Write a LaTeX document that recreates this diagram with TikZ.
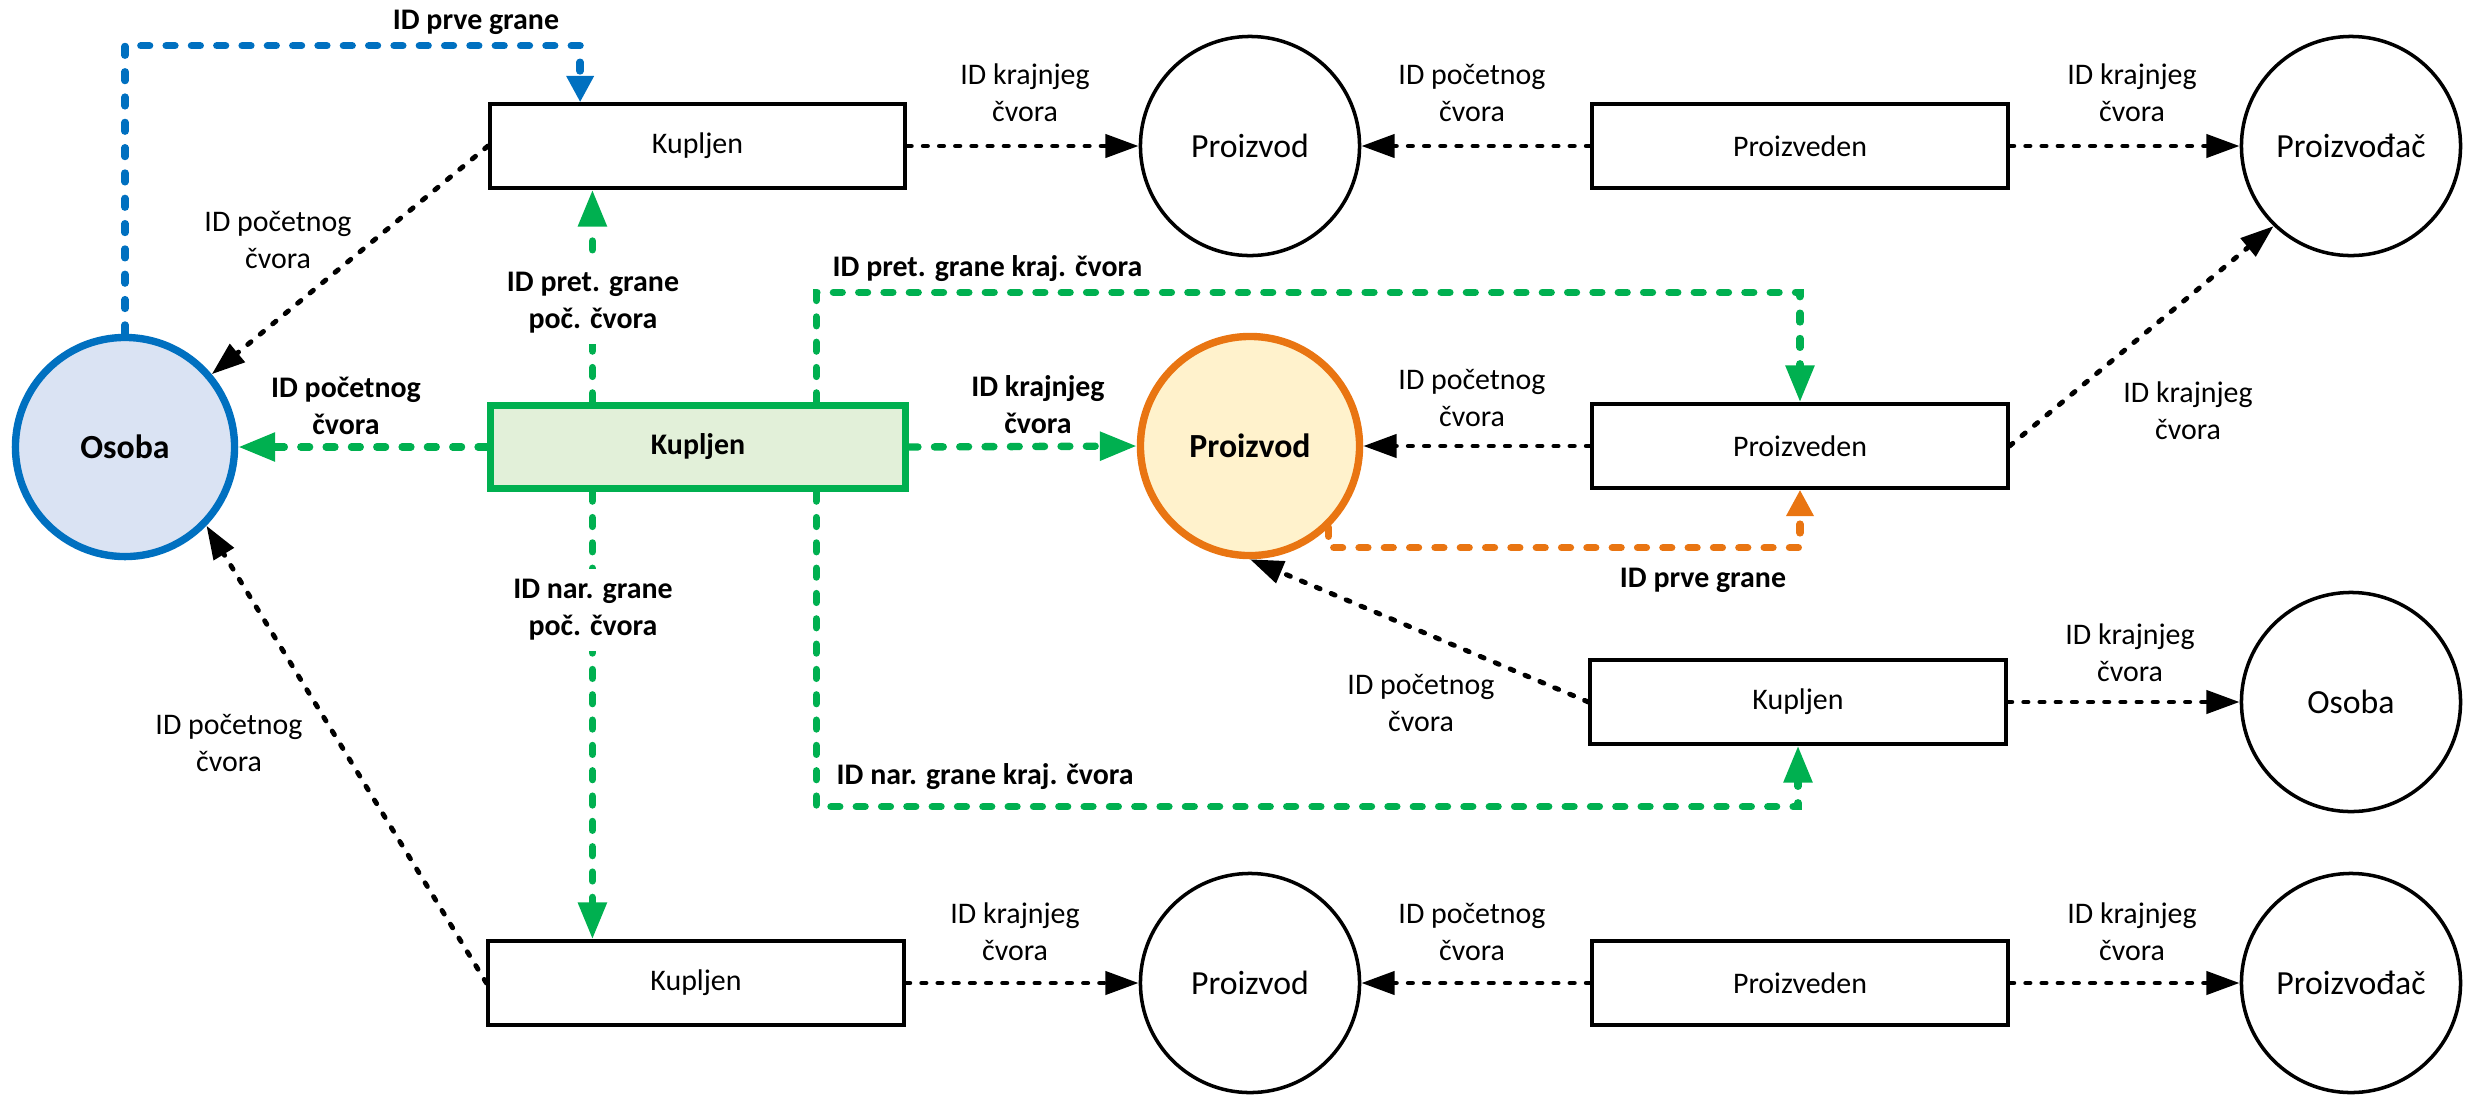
\documentclass[tikz,border=0pt]{standalone}
\usepackage{fontspec}
\setmainfont{Carlito}
\usetikzlibrary{arrows.meta,calc}

\definecolor{cblue}{HTML}{0070C0}
\definecolor{cbluefill}{HTML}{DAE3F3}
\definecolor{cgreen}{HTML}{00B050}
\definecolor{cgreenfill}{HTML}{E2F0D9}
\definecolor{corange}{HTML}{E97512}
\definecolor{corangefill}{HTML}{FFF2CC}

\tikzset{
  box/.style={draw, line width=1.1pt, minimum width=4.15cm, minimum height=0.835cm,
    inner sep=0pt, font=\fontsize{8.5}{10.5}\selectfont},
  circ/.style={circle, draw, line width=1pt, minimum size=2.19cm, inner sep=0pt,
    font=\fontsize{9.6}{11.5}\selectfont},
  lbl/.style={align=center, inner sep=0pt, font=\fontsize{8.5}{10.5}\selectfont},
  blbl/.style={align=center, inner sep=0pt, font=\bfseries\fontsize{8.5}{10.5}\selectfont},
  cutlbl/.style={blbl, fill=white, inner sep=3pt},
  blk/.style={line width=1.4pt, dash pattern=on 1.2pt off 3.4pt, line cap=round,
    -{Triangle[length=9.5pt,width=6.5pt]}},
  clr/.style={line width=2.1pt, dash pattern=on 2.5pt off 4.7pt, line cap=round},
  gline/.style={clr, draw=cgreen, -{Triangle[length=10.5pt,width=7.8pt]}},
  bline/.style={clr, draw=cblue, -{Triangle[length=7.5pt,width=7.4pt]}},
  oline/.style={clr, draw=corange, -{Triangle[length=7.5pt,width=7.4pt]}},
}

\begin{document}
\begin{tikzpicture}[x=0.01cm, y=-0.01cm]
\useasboundingbox (0,0) rectangle (2471,1096);

% --- top row
\node[box]  (Kt)  at (697.5,146) {Kupljen};
\node[circ] (Pt)  at (1250,146) {Proizvod};
\node[box]  (Prt) at (1800,146) {Proizveden};
\node[circ] (PMt) at (2351,146) {Proizvođač};

% --- middle row (highlighted record)
\node[circ, draw=cblue, fill=cbluefill, line width=2.1pt, font=\bfseries\fontsize{9.6}{11.5}\selectfont]
  (Os) at (125,447) {Osoba};
\node[box, draw=cgreen, fill=cgreenfill, line width=2pt, font=\bfseries\fontsize{8.5}{10.5}\selectfont]
  (Km) at (698,447) {Kupljen};
\node[circ, draw=corange, fill=corangefill, line width=2.1pt, font=\bfseries\fontsize{9.6}{11.5}\selectfont]
  (Pm) at (1250,446) {Proizvod};
\node[box]  (Prm) at (1800,446) {Proizveden};

% --- lower right pair
\node[box]  (Kr) at (1798,702) {Kupljen};
\node[circ] (Or) at (2351,702) {Osoba};

% --- bottom row
\node[box]  (Kb)  at (696,983) {Kupljen};
\node[circ] (Pb)  at (1250,983) {Proizvod};
\node[box]  (Prb) at (1800,983) {Proizveden};
\node[circ] (PMb) at (2351,983) {Proizvođač};

% --- plain relationship pointers
\draw[blk] (Kt.east) -- (Pt.west);
\draw[blk] (Prt.west) -- (Pt.east);
\draw[blk] (Prt.east) -- (PMt.west);
\draw[blk] (Kt.west) -- (Os.40);
\draw[blk] (Prm.west) -- (Pm.east);
\draw[blk] (Prm.east) -- (PMt.-134);
\draw[blk] (Kr.west) -- (Pm.south);
\draw[blk] (Kr.east) -- (Or.west);
\draw[blk] (Kb.west) -- (Os.-44);
\draw[blk] (Kb.east) -- (Pb.west);
\draw[blk] (Prb.west) -- (Pb.east);
\draw[blk] (Prb.east) -- (PMb.west);

% --- attachment points on the highlighted edge record
\coordinate (gA) at ($(Km.north west)!0.25!(Km.north east)$);
\coordinate (gB) at ($(Km.north west)!0.78!(Km.north east)$);
\coordinate (gC) at ($(Km.south west)!0.78!(Km.south east)$);
\coordinate (gD) at ($(Km.south west)!0.25!(Km.south east)$);
\coordinate (bT) at ($(Kt.north west)!0.22!(Kt.north east)$);

% --- fields of the highlighted edge record
\draw[gline] (Km.west) -- (Os.east);
\draw[gline] (Km.east) -- (Pm.west);
\draw[gline] (gA) -- (gA |- Kt.south);
\draw[gline] (gD) -- (gD |- Kb.north);
\draw[gline] (gB) |- ($(Prm.north)+(0,-110)$) -- (Prm.north);
\draw[gline] (gC) |- ($(Kr.south)+(0,61)$) -- (Kr.south);

% --- first-edge pointers of the nodes
\draw[bline] (Os.north) -- ++(0,-288) -| (bT);
\draw[oline] (Pm.-46) |- ($(Prm.south)+(0,58)$) -- (Prm.south);

% --- labels
\node[lbl] (l1) at (1025,93) {ID krajnjeg\\čvora};
\node[lbl] (l2) at (1472,93) {ID početnog\\čvora};
\node[lbl] (l3) at (2132,93) {ID krajnjeg\\čvora};
\node[lbl] (l4) at (278,240) {ID početnog\\čvora};
\node[lbl] (l5) at (1472,398) {ID početnog\\čvora};
\node[lbl] (l6) at (2188,411) {ID krajnjeg\\čvora};
\node[lbl] (l7) at (1421,703) {ID početnog\\čvora};
\node[lbl] (l8) at (2130,653) {ID krajnjeg\\čvora};
\node[lbl] (l9) at (229,743) {ID početnog\\čvora};
\node[lbl] (l10) at (1015,932) {ID krajnjeg\\čvora};
\node[lbl] (l11) at (1472,932) {ID početnog\\čvora};
\node[lbl] (l12) at (2132,932) {ID krajnjeg\\čvora};

\node[blbl] (g1) at (346,406) {ID početnog\\čvora};
\node[blbl] (g2) at (1038,405) {ID krajnjeg\\čvora};
\node[cutlbl] (g3) at (593,303) {ID pret. grane\\poč. čvora};
\node[cutlbl] (g4) at (593,610) {ID nar. grane\\poč. čvora};
\node[blbl, anchor=west] (g5) at (832,269) {ID pret. grane kraj. čvora};
\node[blbl, anchor=west] (g6) at (836,777) {ID nar. grane kraj. čvora};
\node[blbl] (b1) at (476,22) {ID prve grane};
\node[blbl] (o1) at (1703,580) {ID prve grane};
\end{tikzpicture}
\end{document}
